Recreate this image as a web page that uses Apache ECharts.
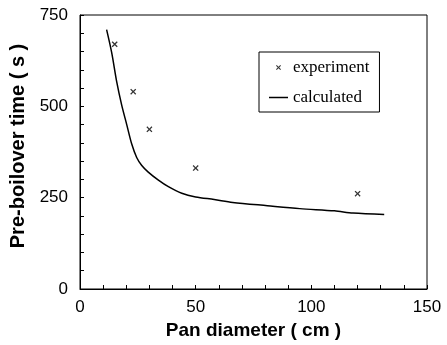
<!DOCTYPE html>
<html>
<head>
<meta charset="utf-8">
<script src="https://cdn.jsdelivr.net/npm/echarts@6/dist/echarts.min.js"></script>
<style>
  html, body { margin: 0; padding: 0; background: #fff; }
  #chart { width: 447px; height: 345px; }
</style>
</head>
<body>
<div id="chart"></div>
<script>
// measured points
const expX = [15, 23, 30, 50, 120];
const expY = [670, 540, 437, 331, 261];

const calcX = [11.5, 13.7, 15.9, 18.0, 20.2, 22.4, 24.5, 26.7, 29.5, 33.9, 38.2, 44, 50, 58, 66, 81, 95, 110, 118, 131.5];
const calcY = [710, 647, 566, 504, 450, 396, 360, 338, 320, 298, 280, 262, 252, 245, 237, 228, 220, 214, 208, 204];

const xLabels = [0, 50, 100, 150];
const yLabels = [0, 250, 500, 750];

const cross = 'path://M0,1.5L1.5,0L5,3.5L8.5,0L10,1.5L6.5,5L10,8.5L8.5,10L5,6.5L1.5,10L0,8.5L3.5,5Z';
// same cross with empty margin so the legend icon stays small
const crossIcon = 'path://M0,0M28,28M9,10.5L10.5,9L14,12.5L17.5,9L19,10.5L15.5,14L19,17.5L17.5,19L14,15.5L10.5,19L9,17.5L12.5,14Z';
const lineIcon = 'path://M0,0L19,0L19,1.5L0,1.5Z';

const sans = '"Liberation Sans", Arial, sans-serif';
const serif = '"Liberation Serif", "Times New Roman", serif';

const chart = echarts.init(document.getElementById('chart'));
chart.setOption({
  animation: false,
  backgroundColor: '#fff',
  grid: {
    left: 80, right: 20, top: 15, bottom: 51,
    show: true, borderColor: '#000', borderWidth: 1
  },
  legend: {
    left: 259, top: 52,
    orient: 'vertical',
    itemWidth: 19, itemHeight: 14, itemGap: 13,
    padding: [7, 10, 6, 10],
    borderColor: '#000', borderWidth: 1, borderRadius: 0,
    textStyle: { fontFamily: serif, fontSize: 17, color: '#000' },
    data: [
      { name: 'experiment', icon: crossIcon },
      { name: 'calculated', icon: lineIcon }
    ]
  },
  xAxis: {
    type: 'value', min: 0, max: 150, interval: 10,
    name: 'Pan diameter ( cm )', nameLocation: 'middle', nameGap: 32,
    nameTextStyle: { fontFamily: sans, fontSize: 19, fontWeight: 'bold', color: '#000' },
    axisLine: { lineStyle: { color: '#000', width: 1 } },
    axisTick: { inside: true, length: 4, lineStyle: { color: '#000' } },
    axisLabel: {
      fontFamily: sans, fontSize: 17, color: '#000', margin: 10,
      formatter: v => xLabels.includes(v) ? String(v) : ''
    },
    splitLine: { show: false }
  },
  yAxis: {
    type: 'value', min: 0, max: 750, interval: 50,
    name: 'Pre-boilover time ( s )', nameLocation: 'middle', nameGap: 52,
    nameTextStyle: { fontFamily: sans, fontSize: 20, fontWeight: 'bold', color: '#000', padding: [0, 0, 0, 12] },
    axisLine: { lineStyle: { color: '#000', width: 1 } },
    axisTick: { inside: true, length: 4, lineStyle: { color: '#000' } },
    axisLabel: {
      fontFamily: sans, fontSize: 17, color: '#000', margin: 12,
      formatter: v => yLabels.includes(v) ? String(v) : ''
    },
    splitLine: { show: false }
  },
  series: [
    {
      name: 'experiment',
      type: 'scatter',
      symbol: cross,
      symbolSize: 6,
      itemStyle: { color: '#000' },
      data: expX.map((x, i) => [x, expY[i]])
    },
    {
      name: 'calculated',
      type: 'line',
      symbol: 'none',
      smooth: 0.3,
      lineStyle: { color: '#000', width: 1.5 },
      itemStyle: { color: '#000' },
      data: calcX.map((x, i) => [x, calcY[i]])
    }
  ]
});
</script>
</body>
</html>
